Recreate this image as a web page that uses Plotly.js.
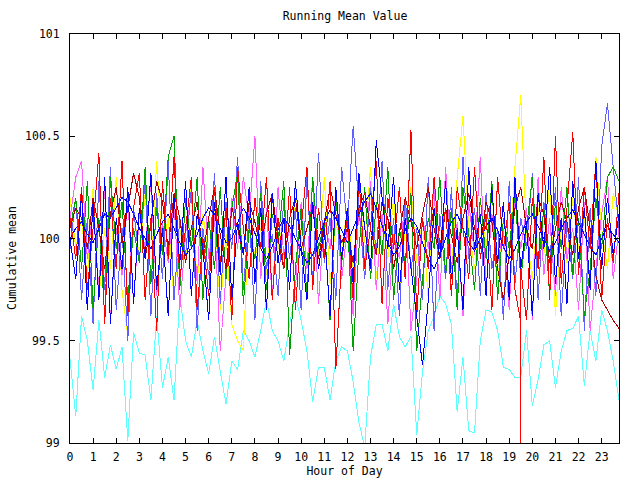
<!DOCTYPE html>
<html>
<head>
<meta charset="utf-8">
<script src="https://cdn.plot.ly/plotly-3.0.1.min.js"></script>
<style>
html,body{margin:0;padding:0;background:#fff;}
#chart{width:640px;height:480px;}
.scatterlayer .js-line{shape-rendering:crispEdges;}
</style>
</head>
<body>
<div id="chart"></div>
<script>
// Hours of day, one sample every 15 minutes (0 .. 23.75)
const hours = [];
for (let i = 0; i < 96; i++) hours.push(i * 0.25);

const yTickVals = [99, 99.5, 100, 100.5, 101];
const yTickText = ['99', '99.5', '100', '100.5', '101'];
const xTickVals = [0,1,2,3,4,5,6,7,8,9,10,11,12,13,14,15,16,17,18,19,20,21,22,23];

const cyan = [99.41, 99.13, 99.62, 99.50, 99.26, 99.60, 99.32, 99.48, 99.36, 99.47, 99.01, 99.54, 99.44, 99.43, 99.21, 99.62, 99.27, 99.42, 99.21, 99.72,
  99.50, 99.42, 99.60, 99.45, 99.34, 99.52, 99.35, 99.19, 99.40, 99.36, 99.55, 99.50, 99.42, 99.55, 99.70, 99.55, 99.50, 99.40, 99.58,
  99.72, 99.60, 99.45, 99.20, 99.37, 99.37, 99.21, 99.40, 99.47, 99.45, 99.30, 99.10, 98.98, 99.42, 99.58, 99.58, 99.45, 99.68, 99.52,
  99.47, 99.52, 99.04, 99.35, 99.55, 99.62, 99.72, 99.68, 99.58, 99.15, 99.42, 99.06, 99.05, 99.50, 99.65, 99.64, 99.55, 99.37, 99.36,
  99.32, 99.32, 99.55, 99.18, 99.31, 99.48, 99.50, 99.27, 99.45, 99.55, 99.56, 99.62, 99.28, 99.55, 99.40, 99.65, 99.55, 99.40, 99.21];

const yellow = [100.20, 99.95, 100.10, 99.80, 100.25, 99.70, 100.05, 99.85, 100.30, 99.75, 99.52, 100.15,
  99.90, 100.22, 99.80, 100.38, 99.95, 100.10, 99.70, 100.05, 99.88, 100.28, 99.78, 100.12,
  99.92, 100.18, 99.65, 100.02, 99.58, 99.50, 99.45, 100.15, 99.90, 100.05, 99.82, 100.20,
  99.95, 100.10, 99.75, 100.25, 100.00, 99.85, 100.18, 99.92, 100.30, 99.78, 100.08, 99.95,
  100.15, 99.85, 100.22, 99.98, 100.35, 99.80, 100.12, 99.90, 100.20, 99.75, 100.05, 100.25,
  99.88, 100.10, 99.70, 100.22, 99.95, 100.15, 99.82, 100.30, 100.60, 100.05, 99.85, 100.18,
  99.95, 100.25, 99.78, 100.10, 99.90, 100.35, 100.70, 100.02, 99.80, 100.15, 99.92, 100.28,
  99.62, 100.05, 99.88, 100.20, 99.95, 100.12, 99.75, 100.40, 100.05, 99.85, 100.22, 100.10];

const magenta = [100.10, 100.30, 100.38, 99.90, 100.15, 99.75, 100.25, 99.60, 100.05, 99.82, 100.20, 99.68,
  100.12, 99.95, 100.28, 99.72, 100.08, 99.88, 100.18, 99.65, 100.02, 100.22, 99.78, 100.35,
  99.90, 100.12, 99.45, 99.85, 100.20, 99.95, 100.30, 100.10, 100.50, 99.80, 100.15, 99.70,
  100.25, 99.92, 100.05, 99.75, 100.18, 99.85, 100.30, 99.68, 100.10, 99.95, 100.22, 99.80,
  100.05, 99.62, 100.15, 99.88, 100.28, 99.75, 100.12, 99.58, 100.02, 99.90, 100.20, 99.55,
  99.80, 100.10, 99.95, 100.25, 99.70, 100.35, 99.85, 100.08, 99.62, 100.18, 99.92, 100.40,
  99.75, 100.12, 99.88, 100.05, 99.65, 100.22, 99.95, 100.15, 99.60, 100.30, 99.82, 100.10,
  99.72, 100.25, 99.90, 100.05, 99.65, 100.18, 99.55, 99.85, 100.12, 100.30, 99.80, 100.05];

const lightBlue = [99.95, 100.20, 99.70, 100.10, 99.58, 100.28, 99.75, 100.35, 99.65, 100.05, 99.50, 100.15,
  99.88, 100.30, 99.62, 100.22, 99.80, 100.38, 99.70, 100.10, 99.92, 100.25, 99.55, 100.05,
  99.82, 100.32, 99.68, 100.18, 99.95, 100.40, 99.75, 100.12, 99.60, 100.28, 99.85, 100.02,
  99.72, 100.20, 99.90, 100.15, 99.65, 100.30, 99.78, 100.42, 99.88, 100.10, 99.70, 100.35,
  100.05, 100.55, 100.15, 99.80, 100.25, 99.92, 100.38, 99.75, 100.10, 99.62, 100.20, 99.85,
  100.05, 99.70, 100.30, 99.55, 100.12, 99.80, 100.25, 99.68, 100.40, 99.90, 100.15, 99.72,
  100.22, 99.85, 100.05, 99.60, 100.28, 99.78, 100.10, 99.95, 100.32, 99.70, 100.18, 99.88,
  100.25, 99.62, 100.08, 99.80, 100.30, 99.55, 100.15, 99.72, 100.45, 100.66, 100.35, 100.05];

const green = [100.05, 100.20, 99.85, 100.28, 99.65, 100.10, 99.62, 100.30, 99.95, 100.18, 99.70, 100.05,
  99.88, 100.35, 99.78, 100.15, 99.92, 100.40, 100.50, 99.75, 100.20, 99.95, 100.30, 99.70,
  100.10, 99.85, 100.25, 99.80, 100.15, 100.32, 99.68, 100.05, 99.90, 100.22, 99.75, 100.12,
  99.98, 100.28, 99.43, 99.85, 100.15, 99.72, 100.30, 99.95, 100.08, 99.60, 100.20, 99.88,
  100.12, 99.45, 99.95, 100.25, 99.80, 100.18, 99.92, 100.35, 99.70, 100.05, 99.88, 100.22,
  99.45, 99.80, 100.10, 99.95, 100.30, 99.82, 100.15, 99.65, 100.25, 100.02, 99.75, 100.20,
  99.90, 100.28, 99.70, 100.10, 99.95, 100.22, 99.80, 100.05, 100.30, 99.85, 100.15, 99.72,
  100.18, 99.95, 100.25, 99.82, 100.10, 99.62, 99.85, 100.20, 99.95, 100.30, 100.35, 100.28];

const darkRed = [100.05, 100.15, 100.10, 99.95, 100.20, 100.05, 99.85, 100.12, 100.25, 99.98, 100.15, 100.32,
  100.20, 99.90, 100.08, 100.28, 100.18, 99.95, 100.22, 100.10, 99.88, 100.05, 100.18, 99.92,
  100.10, 100.25, 100.02, 99.85, 100.15, 100.05, 99.92, 100.18, 100.08, 99.95, 100.12, 100.22,
  100.00, 99.85, 100.10, 100.20, 99.95, 100.05, 100.15, 99.90, 100.08, 100.25, 100.12, 99.98,
  100.05, 99.88, 100.15, 100.22, 100.05, 99.92, 100.18, 100.10, 99.85, 100.02, 100.20, 100.08,
  99.95, 100.12, 100.25, 100.05, 99.90, 100.15, 100.02, 99.88, 100.10, 100.22, 100.05, 99.95,
  100.18, 100.08, 99.85, 99.70, 99.92, 100.15, 100.25, 100.05, 99.95, 100.20, 100.12, 99.88,
  100.05, 100.18, 100.08, 99.92, 100.15, 100.25, 100.05, 99.82, 99.70, 99.65, 99.60, 99.56];

const blueSmooth = [100.00, 100.05, 100.08, 100.02, 99.98, 100.05, 100.12, 100.10, 100.15, 100.20, 100.18, 100.12,
  100.05, 100.00, 99.95, 100.02, 100.08, 100.12, 100.05, 99.98, 99.92, 99.95, 100.02, 100.10,
  100.15, 100.12, 100.05, 99.98, 100.00, 100.08, 100.15, 100.10, 100.02, 99.95, 99.90, 99.96,
  100.04, 100.10, 100.06, 100.00, 99.94, 99.88, 99.92, 100.00, 100.08, 100.14, 100.10, 100.04,
  99.98, 100.05, 100.12, 100.18, 100.22, 100.15, 100.06, 99.98, 99.92, 99.96, 100.04, 100.10,
  100.06, 99.98, 99.90, 99.85, 99.92, 100.00, 100.08, 100.12, 100.05, 99.98, 99.94, 100.00,
  100.06, 100.10, 100.04, 99.96, 99.90, 99.95, 100.02, 100.08, 100.12, 100.06, 100.00, 99.94,
  99.98, 100.05, 100.10, 100.14, 100.08, 100.02, 99.96, 99.92, 100.00, 100.06, 100.02, 99.98];

// red has a reset at 19.5 h, where the running mean drops off the scale
const redHours = hours.slice(0, 78).concat([19.5, 19.5, 19.5], hours.slice(79));
const red = [100.10, 99.90, 100.25, 99.75, 100.05, 100.42, 99.58, 100.20, 99.85, 100.38, 99.62, 100.15,
  100.32, 99.70, 100.10, 99.55, 100.28, 99.90, 100.40, 99.80, 100.05, 100.30, 99.65, 100.00,
  99.72, 100.25, 99.88, 100.15, 99.60, 100.35, 100.05, 99.80, 100.20, 99.95, 100.30, 99.70,
  100.10, 99.85, 100.25, 99.65, 100.05, 100.35, 99.75, 100.15, 99.90, 100.28, 99.36, 99.90,
  100.10, 99.70, 100.30, 99.85, 100.05, 100.38, 99.68, 100.20, 99.95, 100.25, 99.80, 100.53,
  99.62, 100.10, 99.85, 100.30, 99.95, 100.15, 99.72, 100.25, 100.05, 99.80, 100.35, 99.90,
  100.12, 99.65, 100.30, 99.95, 100.18, 99.75, 99.59, 97.00, 99.85, 99.60, 100.20, 99.85, 100.40, 99.70,
  100.50, 99.78, 100.15, 100.52, 99.82, 100.25, 99.95, 100.38, 99.70, 100.10, 99.88, 100.22];

const blue = [100.00, 99.80, 100.22, 99.65, 100.18, 99.70, 100.30, 99.58, 100.10, 99.85, 100.25, 99.68,
  100.15, 99.90, 100.32, 99.75, 100.05, 99.62, 100.20, 99.88, 100.28, 99.72, 100.12, 99.95,
  99.60, 100.18, 99.82, 100.30, 99.70, 100.08, 99.92, 100.25, 99.78, 100.15, 99.65, 100.22,
  99.88, 100.10, 99.75, 100.28, 99.95, 99.70, 100.18, 99.85, 100.05, 99.62, 100.25, 99.90,
  100.15, 99.78, 100.32, 100.05, 99.85, 100.48, 100.20, 99.95, 100.30, 99.75, 100.10, 99.85,
  99.60, 99.38, 99.70, 100.15, 99.90, 100.28, 99.80, 100.05, 99.65, 100.35, 99.95, 100.12,
  99.72, 100.25, 99.88, 100.18, 99.70, 100.30, 99.85, 100.08, 99.62, 100.22, 99.95, 100.35,
  99.78, 100.10, 99.68, 100.28, 99.90, 100.15, 99.75, 100.38, 99.85, 100.20, 99.92, 100.12];

const seriesList = [
  {x: hours, y: cyan, color: '#60ffff'},
  {x: hours, y: yellow, color: '#ffff00'},
  {x: hours, y: magenta, color: '#ff60ff'},
  {x: hours, y: lightBlue, color: '#6060ff'},
  {x: hours, y: green, color: '#00a000'},
  {x: hours, y: darkRed, color: '#b00000'},
  {x: hours, y: blueSmooth, color: '#0000ff'},
  {x: redHours, y: red, color: '#ff0000'},
  {x: hours, y: blue, color: '#0000ff'}
];

const traces = seriesList.map(s => ({
  type: 'scatter', mode: 'lines', x: s.x, y: s.y,
  line: {color: s.color, width: 1}, hoverinfo: 'skip'
}));

const mono = {family: 'DejaVu Sans Mono, monospace', size: 11.5, color: '#000'};

const layout = {
  width: 640, height: 480,
  margin: {l: 70, r: 21, t: 34, b: 37, pad: 0},
  paper_bgcolor: '#fff', plot_bgcolor: '#fff',
  showlegend: false,
  font: mono,
  title: {text: 'Running Mean Value', font: mono, x: 345/640, xref: 'container', xanchor: 'center', y: 1 - 16/480, yref: 'container', yanchor: 'middle'},
  xaxis: {
    range: [0, 23.75], tickvals: xTickVals, ticks: 'inside', ticklen: 5, tickcolor: '#000',
    showline: true, linecolor: '#000', linewidth: 1, mirror: 'ticks',
    showgrid: false, zeroline: false, tickfont: mono, ticklabelstandoff: 3,
    title: {text: 'Hour of Day', font: mono, standoff: 3}
  },
  yaxis: {
    range: [99, 101], tickvals: yTickVals, ticktext: yTickText, ticks: 'inside', ticklen: 5, tickcolor: '#000',
    showline: true, linecolor: '#000', linewidth: 1, mirror: 'ticks',
    showgrid: false, zeroline: false, tickfont: mono, ticklabelstandoff: 7
  },
  annotations: [{
    text: 'Cumulative mean', font: mono, textangle: -90, showarrow: false,
    xref: 'paper', yref: 'paper', x: (12 - 70) / 549, y: (443 - 258) / 409,
    xanchor: 'center', yanchor: 'middle'
  }],
  hovermode: false
};

Plotly.newPlot('chart', traces, layout, {staticPlot: true, displayModeBar: false});
</script>
</body>
</html>
